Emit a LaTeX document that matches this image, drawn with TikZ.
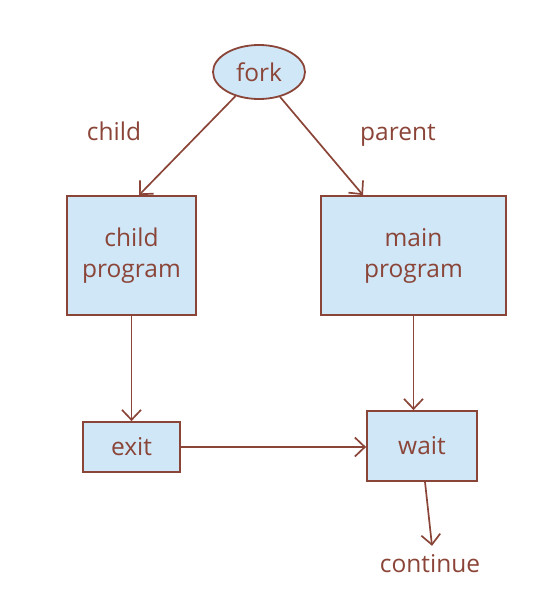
\documentclass[tikz,border=0pt]{standalone}
\usepackage{fontspec}
\setmainfont{Open Sans}
\usetikzlibrary{arrows.meta,shapes.geometric}
\definecolor{brn}{HTML}{8B4538}
\definecolor{fillb}{HTML}{CFE7F7}
\tikzset{
  box/.style={draw=brn, line width=1.8pt, fill=fillb, text=brn, align=center, inner sep=0pt},
  lbl/.style={text=brn, inner sep=0pt, anchor=base},
  conn/.style={draw=brn, line width=1.7pt, -{Straight Barb[length=10pt,width=19pt,line width=1.7pt]}},
}
\begin{document}
\begin{tikzpicture}[x=1pt,y=-1pt,font=\fontsize{24.5}{31}\selectfont]
\useasboundingbox (0,0) rectangle (543,589);
\node[box, ellipse, minimum width=92pt, minimum height=54pt] (fork) at (259,72) {fork};
\node[box, minimum width=129pt, minimum height=119pt] (cp) at (131.5,255.5) {child\\program};
\node[box, minimum width=185pt, minimum height=119pt] (mp) at (413.5,255.5) {main\\program};
\node[box, minimum width=97pt, minimum height=50pt] (exit) at (131.5,447) {exit};
\node[box, minimum width=110pt, minimum height=70pt] (wait) at (422,446) {wait};
\node[lbl] (cont) at (430,572) {continue};
\node[lbl] (lc) at (114,140) {child};
\node[lbl] (lp) at (398,140) {parent};
\draw[conn] (fork) -- ([xshift=7.5pt]cp.north);
\draw[conn] (fork) -- ([xshift=-50.5pt]mp.north);
\draw[conn] (cp.south) -- (exit.north);
\draw[conn] (mp.south) -- (mp.south |- wait.north);
\draw[conn] (exit.east) -- (wait.west |- exit.east);
\draw[conn] ([xshift=3pt]wait.south) -- ([xshift=2pt,yshift=8pt]cont.north);
\end{tikzpicture}
\end{document}
